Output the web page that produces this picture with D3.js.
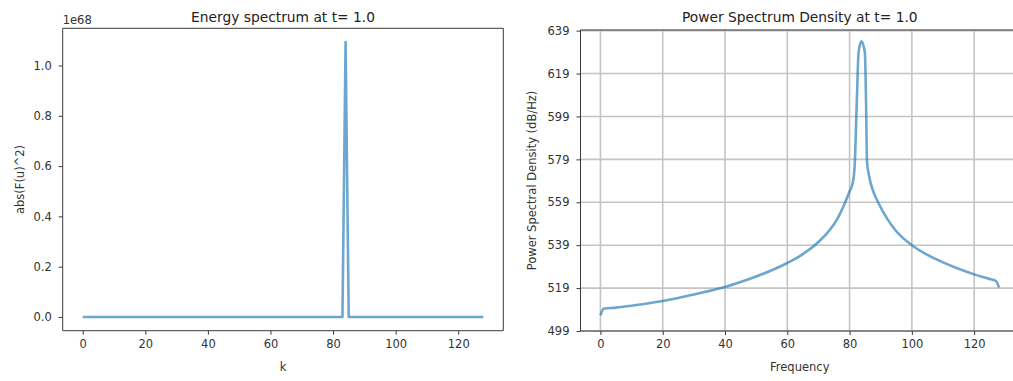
<!DOCTYPE html>
<html><head><meta charset="utf-8">
<script src="https://cdn.jsdelivr.net/npm/d3@7"></script>
<style>
html,body{margin:0;padding:0;background:#fff;overflow:hidden}
svg{display:block;font-family:"DejaVu Sans",sans-serif}
</style></head>
<body>
<svg id="c" width="1013" height="381"></svg>
<script>
// ---- Data ----
const energyK = [0, 83, 84, 85, 128];
const energyVals = [0, 0, 1.093e68, 0, 0];
const energyXTicks = [0, 20, 40, 60, 80, 100, 120];
const energyYTicks = [0, 0.2e68, 0.4e68, 0.6e68, 0.8e68, 1.0e68];
const energyYTickLabels = ["0.0", "0.2", "0.4", "0.6", "0.8", "1.0"];

const psdFreq = [0, 1, 5, 10, 15, 20, 25, 30, 35, 40, 45, 50, 55, 60, 65, 70, 73, 76, 78, 80, 81, 81.6, 82.3, 82.9, 83.8, 84.9, 85.3, 85.6, 86.3, 87.5, 89, 92, 95, 100, 105, 110, 115, 120, 125, 127, 128];
const psdVals = [506.3, 509.4, 509.9, 510.8, 511.8, 513, 514.4, 516, 517.7, 519.5, 521.8, 524.4, 527.3, 530.7, 534.8, 540.5, 545, 551, 557, 564, 568, 575, 605, 629, 634, 629, 605, 578, 571, 564.5, 559.5, 551.5, 545.5, 539, 534.5, 531, 528, 525.4, 523.2, 522.3, 519.3];
const psdXTicks = [0, 20, 40, 60, 80, 100, 120];
const psdYTicks = [499, 519, 539, 559, 579, 599, 619, 639];

const svg = d3.select("#c");
const lineColor = "#1f77b4";
const spineColor = "#3a3a3a";
const tickFont = 11.5;

function frame(g, L, R, T, B, rightSpine) {
  g.append("line").attr("x1", L).attr("x2", L).attr("y1", T).attr("y2", B).attr("stroke", spineColor).attr("stroke-width", 1);
  g.append("line").attr("x1", L).attr("x2", R).attr("y1", B).attr("y2", B).attr("stroke", spineColor).attr("stroke-width", 1);
  g.append("line").attr("x1", L).attr("x2", R).attr("y1", T).attr("y2", T).attr("stroke", spineColor).attr("stroke-width", 1);
  if (rightSpine) g.append("line").attr("x1", R).attr("x2", R).attr("y1", T).attr("y2", B).attr("stroke", spineColor).attr("stroke-width", 1);
}

function styleAxis(sel) {
  sel.select(".domain").remove();
  sel.selectAll(".tick line").attr("stroke", spineColor).attr("stroke-width", 1);
  sel.selectAll(".tick text").attr("fill", "#333").style("font-size", tickFont + "px").style("font-family", "DejaVu Sans");
}

// ---- Left chart ----
{
  const L = 62.7, R = 503.3, T = 28.3, B = 330.7;
  const x = d3.scaleLinear().domain([-6.4, 134.4]).range([L, R]);
  const y = d3.scaleLinear().domain([-0.0547e68, 1.148e68]).range([B, T]);
  const g = svg.append("g");
  g.append("path").datum(energyK.map((k, i) => [k, energyVals[i]]))
    .attr("d", d3.line().x(d => x(d[0])).y(d => y(d[1])))
    .attr("fill", "none").attr("stroke", lineColor).attr("stroke-opacity", 0.65).attr("stroke-width", 2.6).attr("stroke-linejoin", "round");
  frame(g, L, R, T, B, true);
  const xa = g.append("g").attr("transform", `translate(0,${B})`)
    .call(d3.axisBottom(x).tickValues(energyXTicks).tickSize(4).tickPadding(5).tickFormat(d3.format("d")));
  styleAxis(xa);
  const ya = g.append("g").attr("transform", `translate(${L},0)`)
    .call(d3.axisLeft(y).tickValues(energyYTicks).tickSize(4).tickPadding(7).tickFormat((d, i) => energyYTickLabels[i]));
  styleAxis(ya);
  g.append("text").attr("x", (L + R) / 2).attr("y", 22).attr("text-anchor", "middle").attr("fill", "#222").style("font-size", "13.8px").text("Energy spectrum at t= 1.0");
  g.append("text").attr("x", L).attr("y", 24).attr("fill", "#333").style("font-size", tickFont + "px").text("1e68");
  g.append("text").attr("x", (L + R) / 2).attr("y", 370.5).attr("text-anchor", "middle").attr("fill", "#333").style("font-size", tickFont + "px").text("k");
  g.append("text").attr("transform", `translate(24,${(T + B) / 2}) rotate(-90)`).attr("text-anchor", "middle").attr("fill", "#333").style("font-size", tickFont + "px").text("abs(F(u)^2)");
}

// ---- Right chart ----
{
  const L = 580.5, R = 1019, T = 30, B = 331;
  const x = d3.scaleLinear().domain([-6.4, 134.4]).range([L, R]);
  const y = d3.scaleLinear().domain([499, 639.3]).range([B, T]);
  const g = svg.append("g");
  const grid = g.append("g");
  psdXTicks.forEach(v => grid.append("line").attr("x1", x(v)).attr("x2", x(v)).attr("y1", T).attr("y2", B).attr("stroke", "#c4c4c4").attr("stroke-width", 1.6));
  psdYTicks.forEach(v => grid.append("line").attr("x1", L).attr("x2", R).attr("y1", y(v)).attr("y2", y(v)).attr("stroke", "#c4c4c4").attr("stroke-width", 1.6));
  g.append("path").datum(psdFreq.map((f, i) => [f, psdVals[i]]))
    .attr("d", d3.line().x(d => x(d[0])).y(d => y(d[1])).curve(d3.curveMonotoneX))
    .attr("fill", "none").attr("stroke", lineColor).attr("stroke-opacity", 0.65).attr("stroke-width", 2.6).attr("stroke-linejoin", "round");
  frame(g, L, R, T, B, false);
  const xa = g.append("g").attr("transform", `translate(0,${B})`)
    .call(d3.axisBottom(x).tickValues(psdXTicks).tickSize(4).tickPadding(5).tickFormat(d3.format("d")));
  styleAxis(xa);
  const ya = g.append("g").attr("transform", `translate(${L},0)`)
    .call(d3.axisLeft(y).tickValues(psdYTicks).tickSize(4).tickPadding(7).tickFormat(d3.format("d")));
  styleAxis(ya);
  g.append("text").attr("x", (L + R) / 2).attr("y", 22).attr("text-anchor", "middle").attr("fill", "#222").style("font-size", "13.8px").text("Power Spectrum Density at t= 1.0");
  g.append("text").attr("x", (L + R) / 2).attr("y", 370.5).attr("text-anchor", "middle").attr("fill", "#333").style("font-size", tickFont + "px").text("Frequency");
  g.append("text").attr("transform", `translate(536,${(T + B) / 2}) rotate(-90)`).attr("text-anchor", "middle").attr("fill", "#333").style("font-size", tickFont + "px").text("Power Spectral Density (dB/Hz)");
}
</script>
</body></html>
